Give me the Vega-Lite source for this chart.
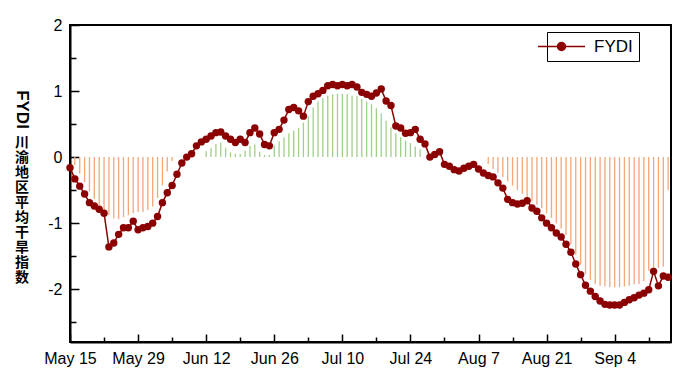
{
  "$schema": "https://vega.github.io/schema/vega-lite/v6.json",
  "width": 601,
  "height": 317,
  "autosize": {"type": "none"},
  "padding": {"left": 70, "top": 25, "right": 29, "bottom": 39},
  "background": "white",
  "config": {
    "view": {"stroke": "black", "strokeWidth": 2},
    "font": "Liberation Sans",
    "axis": {"grid": false, "domainColor": "black", "domainWidth": 2, "tickColor": "black", "tickWidth": 1.5, "labelColor": "black", "labelFont": "Liberation Sans", "labelFontSize": 16}
  },
  "data": {"values": [
    {"date": "2022-05-15", "fydi": -0.16, "bar": null},
    {"date": "2022-05-16", "fydi": -0.33, "bar": -0.12},
    {"date": "2022-05-17", "fydi": -0.44, "bar": -0.25},
    {"date": "2022-05-18", "fydi": -0.56, "bar": -0.38},
    {"date": "2022-05-19", "fydi": -0.69, "bar": -0.52},
    {"date": "2022-05-20", "fydi": -0.74, "bar": -0.63},
    {"date": "2022-05-21", "fydi": -0.79, "bar": -0.73},
    {"date": "2022-05-22", "fydi": -0.85, "bar": -0.82},
    {"date": "2022-05-23", "fydi": -1.36, "bar": -0.88},
    {"date": "2022-05-24", "fydi": -1.30, "bar": -0.93},
    {"date": "2022-05-25", "fydi": -1.17, "bar": -0.94},
    {"date": "2022-05-26", "fydi": -1.07, "bar": -0.91},
    {"date": "2022-05-27", "fydi": -1.07, "bar": -0.88},
    {"date": "2022-05-28", "fydi": -0.97, "bar": -0.85},
    {"date": "2022-05-29", "fydi": -1.10, "bar": -0.83},
    {"date": "2022-05-30", "fydi": -1.07, "bar": -0.83},
    {"date": "2022-05-31", "fydi": -1.05, "bar": -0.80},
    {"date": "2022-06-01", "fydi": -1.00, "bar": -0.75},
    {"date": "2022-06-02", "fydi": -0.90, "bar": -0.62},
    {"date": "2022-06-03", "fydi": -0.69, "bar": -0.43},
    {"date": "2022-06-04", "fydi": -0.54, "bar": -0.22},
    {"date": "2022-06-05", "fydi": -0.43, "bar": -0.06},
    {"date": "2022-06-06", "fydi": -0.26, "bar": null},
    {"date": "2022-06-07", "fydi": -0.09, "bar": null},
    {"date": "2022-06-08", "fydi": 0.00, "bar": null},
    {"date": "2022-06-09", "fydi": 0.05, "bar": null},
    {"date": "2022-06-10", "fydi": 0.17, "bar": null},
    {"date": "2022-06-11", "fydi": 0.23, "bar": null},
    {"date": "2022-06-12", "fydi": 0.27, "bar": 0.09},
    {"date": "2022-06-13", "fydi": 0.32, "bar": 0.14},
    {"date": "2022-06-14", "fydi": 0.37, "bar": 0.20},
    {"date": "2022-06-15", "fydi": 0.38, "bar": 0.22},
    {"date": "2022-06-16", "fydi": 0.32, "bar": 0.14},
    {"date": "2022-06-17", "fydi": 0.27, "bar": 0.07},
    {"date": "2022-06-18", "fydi": 0.22, "bar": 0.05},
    {"date": "2022-06-19", "fydi": 0.27, "bar": 0.05},
    {"date": "2022-06-20", "fydi": 0.22, "bar": 0.10},
    {"date": "2022-06-21", "fydi": 0.37, "bar": 0.17},
    {"date": "2022-06-22", "fydi": 0.44, "bar": 0.19},
    {"date": "2022-06-23", "fydi": 0.35, "bar": 0.08},
    {"date": "2022-06-24", "fydi": 0.19, "bar": 0.03},
    {"date": "2022-06-25", "fydi": 0.17, "bar": 0.03},
    {"date": "2022-06-26", "fydi": 0.37, "bar": 0.18},
    {"date": "2022-06-27", "fydi": 0.42, "bar": 0.24},
    {"date": "2022-06-28", "fydi": 0.56, "bar": 0.30},
    {"date": "2022-06-29", "fydi": 0.72, "bar": 0.36},
    {"date": "2022-06-30", "fydi": 0.75, "bar": 0.40},
    {"date": "2022-07-01", "fydi": 0.70, "bar": 0.44},
    {"date": "2022-07-02", "fydi": 0.62, "bar": 0.52},
    {"date": "2022-07-03", "fydi": 0.84, "bar": 0.62},
    {"date": "2022-07-04", "fydi": 0.92, "bar": 0.75},
    {"date": "2022-07-05", "fydi": 0.96, "bar": 0.84},
    {"date": "2022-07-06", "fydi": 1.01, "bar": 0.89},
    {"date": "2022-07-07", "fydi": 1.08, "bar": 0.93},
    {"date": "2022-07-08", "fydi": 1.10, "bar": 0.95},
    {"date": "2022-07-09", "fydi": 1.08, "bar": 0.96},
    {"date": "2022-07-10", "fydi": 1.10, "bar": 0.96},
    {"date": "2022-07-11", "fydi": 1.08, "bar": 0.95},
    {"date": "2022-07-12", "fydi": 1.10, "bar": 0.93},
    {"date": "2022-07-13", "fydi": 1.06, "bar": 0.92},
    {"date": "2022-07-14", "fydi": 0.98, "bar": 0.88},
    {"date": "2022-07-15", "fydi": 0.95, "bar": 0.84},
    {"date": "2022-07-16", "fydi": 0.92, "bar": 0.80},
    {"date": "2022-07-17", "fydi": 0.97, "bar": 0.74},
    {"date": "2022-07-18", "fydi": 1.03, "bar": 0.66},
    {"date": "2022-07-19", "fydi": 0.85, "bar": 0.55},
    {"date": "2022-07-20", "fydi": 0.78, "bar": 0.45},
    {"date": "2022-07-21", "fydi": 0.47, "bar": 0.36},
    {"date": "2022-07-22", "fydi": 0.44, "bar": 0.30},
    {"date": "2022-07-23", "fydi": 0.36, "bar": 0.25},
    {"date": "2022-07-24", "fydi": 0.37, "bar": 0.21},
    {"date": "2022-07-25", "fydi": 0.42, "bar": 0.16},
    {"date": "2022-07-26", "fydi": 0.27, "bar": 0.12},
    {"date": "2022-07-27", "fydi": 0.20, "bar": null},
    {"date": "2022-07-28", "fydi": 0.00, "bar": null},
    {"date": "2022-07-29", "fydi": 0.04, "bar": null},
    {"date": "2022-07-30", "fydi": 0.08, "bar": null},
    {"date": "2022-07-31", "fydi": -0.11, "bar": null},
    {"date": "2022-08-01", "fydi": -0.14, "bar": null},
    {"date": "2022-08-02", "fydi": -0.19, "bar": null},
    {"date": "2022-08-03", "fydi": -0.21, "bar": null},
    {"date": "2022-08-04", "fydi": -0.17, "bar": null},
    {"date": "2022-08-05", "fydi": -0.14, "bar": null},
    {"date": "2022-08-06", "fydi": -0.11, "bar": null},
    {"date": "2022-08-07", "fydi": -0.18, "bar": null},
    {"date": "2022-08-08", "fydi": -0.24, "bar": null},
    {"date": "2022-08-09", "fydi": -0.28, "bar": -0.10},
    {"date": "2022-08-10", "fydi": -0.30, "bar": -0.18},
    {"date": "2022-08-11", "fydi": -0.39, "bar": -0.24},
    {"date": "2022-08-12", "fydi": -0.47, "bar": -0.30},
    {"date": "2022-08-13", "fydi": -0.64, "bar": -0.37},
    {"date": "2022-08-14", "fydi": -0.69, "bar": -0.43},
    {"date": "2022-08-15", "fydi": -0.71, "bar": -0.50},
    {"date": "2022-08-16", "fydi": -0.70, "bar": -0.56},
    {"date": "2022-08-17", "fydi": -0.66, "bar": -0.62},
    {"date": "2022-08-18", "fydi": -0.77, "bar": -0.67},
    {"date": "2022-08-19", "fydi": -0.82, "bar": -0.72},
    {"date": "2022-08-20", "fydi": -0.92, "bar": -0.77},
    {"date": "2022-08-21", "fydi": -1.00, "bar": -0.85},
    {"date": "2022-08-22", "fydi": -1.07, "bar": -0.92},
    {"date": "2022-08-23", "fydi": -1.15, "bar": -1.00},
    {"date": "2022-08-24", "fydi": -1.21, "bar": -1.08},
    {"date": "2022-08-25", "fydi": -1.32, "bar": -1.18},
    {"date": "2022-08-26", "fydi": -1.44, "bar": -1.32},
    {"date": "2022-08-27", "fydi": -1.62, "bar": -1.48},
    {"date": "2022-08-28", "fydi": -1.78, "bar": -1.63},
    {"date": "2022-08-29", "fydi": -1.94, "bar": -1.77},
    {"date": "2022-08-30", "fydi": -2.03, "bar": -1.86},
    {"date": "2022-08-31", "fydi": -2.11, "bar": -1.92},
    {"date": "2022-09-01", "fydi": -2.18, "bar": -1.95},
    {"date": "2022-09-02", "fydi": -2.23, "bar": -1.96},
    {"date": "2022-09-03", "fydi": -2.24, "bar": -1.97},
    {"date": "2022-09-04", "fydi": -2.24, "bar": -1.97},
    {"date": "2022-09-05", "fydi": -2.24, "bar": -1.97},
    {"date": "2022-09-06", "fydi": -2.20, "bar": -1.96},
    {"date": "2022-09-07", "fydi": -2.16, "bar": -1.95},
    {"date": "2022-09-08", "fydi": -2.13, "bar": -1.93},
    {"date": "2022-09-09", "fydi": -2.09, "bar": -1.92},
    {"date": "2022-09-10", "fydi": -2.06, "bar": -1.88},
    {"date": "2022-09-11", "fydi": -2.01, "bar": -1.72},
    {"date": "2022-09-12", "fydi": -1.73, "bar": -1.70},
    {"date": "2022-09-13", "fydi": -1.95, "bar": -1.68},
    {"date": "2022-09-14", "fydi": -1.80, "bar": -1.66},
    {"date": "2022-09-15", "fydi": -1.82, "bar": -0.50}
  ]},
  "encoding": {
    "x": {
      "field": "date", "type": "temporal",
      "scale": {"type": "utc", "domain": [{"year": 2022, "month": 5, "date": 15, "utc": true}, {"year": 2022, "month": 9, "date": 15, "hours": 14, "utc": true}]},
      "axis": {
        "title": "FYDI",
        "titleAngle": 90, "titleX": -48.5, "titleY": -233, "titleAlign": "center", "titleBaseline": "middle",
        "titleFont": "Liberation Sans", "titleFontSize": 17, "titleFontWeight": "bold", "titleColor": "black",
        "tickCount": 40,
        "values": [
          {"year": 2022, "month": 5, "date": 15, "utc": true},
          {"year": 2022, "month": 5, "date": 22, "utc": true},
          {"year": 2022, "month": 5, "date": 29, "utc": true},
          {"year": 2022, "month": 6, "date": 5, "utc": true},
          {"year": 2022, "month": 6, "date": 12, "utc": true},
          {"year": 2022, "month": 6, "date": 19, "utc": true},
          {"year": 2022, "month": 6, "date": 26, "utc": true},
          {"year": 2022, "month": 7, "date": 3, "utc": true},
          {"year": 2022, "month": 7, "date": 10, "utc": true},
          {"year": 2022, "month": 7, "date": 17, "utc": true},
          {"year": 2022, "month": 7, "date": 24, "utc": true},
          {"year": 2022, "month": 7, "date": 31, "utc": true},
          {"year": 2022, "month": 8, "date": 7, "utc": true},
          {"year": 2022, "month": 8, "date": 14, "utc": true},
          {"year": 2022, "month": 8, "date": 21, "utc": true},
          {"year": 2022, "month": 8, "date": 28, "utc": true},
          {"year": 2022, "month": 9, "date": 4, "utc": true},
          {"year": 2022, "month": 9, "date": 11, "utc": true}
        ],
        "labelExpr": "round((datum.value - utc(2022,4,15)) / 86400000) % 14 === 0 ? utcFormat(datum.value, '%b %-d') : ''",
        "tickSize": {"condition": {"test": "round((datum.value - utc(2022,4,15)) / 86400000) % 14 === 0", "value": -8}, "value": -5},
        "labelPadding": 16,
        "labelOverlap": false,
        "labelFlush": false
      }
    }
  },
  "layer": [
    {
      "mark": {"type": "rule", "strokeWidth": 1.3},
      "encoding": {
        "y": {
          "field": "bar", "type": "quantitative",
          "scale": {"domain": [-2.8, 2], "nice": false, "zero": false},
          "axis": {
            "title": ["川", "渝", "地", "区", "平", "均", "干", "旱", "指", "数"],
            "titleAngle": 0, "titleX": -48.5, "titleY": 110, "titleAlign": "center", "titleBaseline": "top",
            "titleFont": "Noto Sans CJK SC", "titleFontSize": 14, "titleFontWeight": "bold", "titleLineHeight": 15, "titleColor": "black",
            "tickCount": 40,
            "values": [-2.5, -2, -1.5, -1, -0.5, 0, 0.5, 1, 1.5, 2],
            "labelExpr": "abs(datum.value % 1) < 0.01 ? replace(format(datum.value, 'd'), '\u2212', '-') : ''",
            "tickSize": {"condition": {"test": "abs(datum.value % 1) < 0.01", "value": -9}, "value": -6},
            "labelPadding": 17,
            "labelOverlap": false,
            "labelFlush": false
          }
        },
        "y2": {"datum": 0},
        "stroke": {
          "field": "bar", "type": "quantitative",
          "scale": {"type": "threshold", "domain": [0], "range": ["#f4a77a", "#9fd08a"]},
          "legend": null
        }
      }
    },
    {
      "mark": {"type": "rule", "color": "black", "strokeWidth": 1.6},
      "encoding": {"y": {"datum": 0}}
    },
    {
      "mark": {"type": "line", "strokeWidth": 1.5, "point": {"filled": true, "size": 55, "opacity": 1}},
      "encoding": {
        "y": {"field": "fydi", "type": "quantitative"},
        "color": {
          "datum": "FYDI", "type": "nominal",
          "scale": {"range": ["#8b0000"]},
          "legend": {
            "orient": "none", "legendX": 477, "legendY": 7, "title": null,
            "symbolType": "M-4.7,0H-0.9M0.9,0H4.7M0.8,0A0.8,0.8,0,1,1,-0.8,0A0.8,0.8,0,1,1,0.8,0Z",
            "symbolSize": 100, "symbolFillColor": "#8b0000", "symbolStrokeColor": "#8b0000", "symbolStrokeWidth": 1.5,
            "labelFont": "Liberation Sans", "labelFontSize": 17, "labelColor": "black", "labelOffset": 24,
            "strokeColor": "black", "padding": 6
          }
        }
      }
    }
  ]
}
